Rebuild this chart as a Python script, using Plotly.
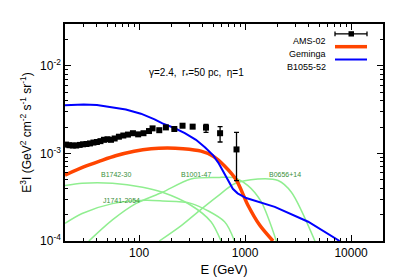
import plotly.graph_objects as go

# ---------------- data ----------------
ams_E = [20.5, 22.0, 23.7, 25.5, 27.5, 29.6, 31.9, 34.4, 37.1, 40.0, 43.2, 46.6, 50.3, 54.3,
         58.8, 64.5, 71.0, 78.5, 87.5, 98, 110, 124, 134, 155, 179, 215, 257, 320, 428, 581, 830]
ams_F = [1.26e-3, 1.24e-3, 1.23e-3, 1.23e-3, 1.25e-3, 1.27e-3, 1.28e-3, 1.30e-3, 1.33e-3, 1.35e-3,
         1.38e-3, 1.43e-3, 1.45e-3, 1.43e-3, 1.48e-3, 1.55e-3, 1.60e-3, 1.64e-3, 1.70e-3, 1.65e-3,
         1.70e-3, 1.80e-3, 1.93e-3, 1.84e-3, 1.98e-3, 1.90e-3, 2.07e-3, 2.02e-3, 1.97e-3, 1.70e-3, 1.11e-3]
ams_err_up = [0.02e-3] * 26 + [0.06e-3, 0.08e-3, 0.17e-3, 0.32e-3, 0.63e-3]
ams_err_dn = [0.02e-3] * 26 + [0.06e-3, 0.08e-3, 0.23e-3, 0.35e-3, 0.62e-3]

gem_E = [20, 30, 43, 60, 90, 130, 185, 260, 384, 500, 640, 824, 1064, 1371, 1834]
gem_F = [5.65e-4, 7.0e-4, 8.2e-4, 9.4e-4, 1.06e-3, 1.13e-3, 1.15e-3, 1.13e-3, 1.06e-3, 9.3e-4,
         7.2e-4, 5.0e-4, 2.56e-4, 1.52e-4, 1.0e-4]

b1055_E = [20, 25, 30, 40, 50, 75, 104, 140, 166, 215, 270, 344, 420, 500, 560, 616, 680, 730, 766,
           850, 1024, 1905, 3935, 7800]
b1055_F = [3.54e-3, 3.60e-3, 3.62e-3, 3.56e-3, 3.44e-3, 3.17e-3, 2.84e-3, 2.45e-3, 2.2e-3, 1.95e-3,
           1.70e-3, 1.43e-3, 1.17e-3, 9.5e-4, 7.8e-4, 6.3e-4, 5.0e-4, 4.3e-4, 3.94e-4,
           3.5e-4, 3.09e-4, 2.45e-4, 1.66e-4, 1.0e-4]

b1742_E = [20, 29, 56, 108, 166, 308, 477, 593]
b1742_F = [4.29e-4, 4.55e-4, 4.55e-4, 4.1e-4, 3.6e-4, 2.56e-4, 1.66e-4, 1.0e-4]

j1741_E = [20, 29, 56, 115, 166, 308, 640, 794]
j1741_F = [1.59e-4, 2.06e-4, 2.67e-4, 2.91e-4, 2.86e-4, 2.69e-4, 1.66e-4, 1.0e-4]

b1001_E = [33.6, 56, 93, 166, 308, 552, 766, 1064, 1422, 1972]
b1001_F = [1.0e-4, 1.74e-4, 2.67e-4, 3.6e-4, 5.1e-4, 5.3e-4, 5.3e-4, 4.29e-4, 2.79e-4, 1.0e-4]

b0656_E = [155, 250, 384, 560, 794, 1321, 2047, 2735, 4560]
b0656_F = [1.0e-4, 1.5e-4, 2.3e-4, 3.3e-4, 4.5e-4, 5.1e-4, 4.9e-4, 3.6e-4, 1.0e-4]

green_labels = ["B1742-30", "J1741-2054", "B1001-47", "B0656+14"]
legend_names = ["AMS-02", "Geminga", "B1055-52"]
x_ticks = [100, 1000, 10000]
y_ticks = [1e-4, 1e-3, 1e-2]
y_ticktext = ["10<sup>-4</sup>", "10<sup>-3</sup>", "10<sup>-2</sup>"]

# ---------------- figure ----------------
GREEN = "#90EE90"
ORANGE = "#FF4500"
BLUE = "#0000FF"
FONT = "Liberation Sans"

fig = go.Figure()
for E, F in [(b1742_E, b1742_F), (j1741_E, j1741_F), (b1001_E, b1001_F), (b0656_E, b0656_F)]:
    fig.add_trace(go.Scatter(x=E, y=F, mode="lines", line=dict(color=GREEN, width=1.5, shape="spline", smoothing=0.8),
                             showlegend=False, hoverinfo="skip"))
fig.add_trace(go.Scatter(x=gem_E, y=gem_F, mode="lines", line=dict(color=ORANGE, width=3.5, shape="spline", smoothing=0.8),
                         showlegend=False))
fig.add_trace(go.Scatter(x=b1055_E, y=b1055_F, mode="lines", line=dict(color=BLUE, width=2),
                         showlegend=False))
fig.add_trace(go.Scatter(x=ams_E, y=ams_F, mode="markers",
                         marker=dict(symbol="square", size=6, color="black"),
                         error_y=dict(type="data", array=ams_err_up, arrayminus=ams_err_dn,
                                      color="black", thickness=1.3, width=2.5),
                         showlegend=False))

# plot area helpers (paper coords)
L, R, T, B = 57, 375, 16, 236
def px(x):
    return (x - L) / (R - L)
def py(y):
    return (B - y) / (B - T)

annotations = [
    dict(x=px(139), y=py(58), xref="paper", yref="paper",
         text="γ=2.4,  r<sub>*</sub>=50 pc,  η=1", showarrow=False,
         font=dict(family=FONT, size=10, color="black")),
]
lab_pos = [(91, 174), (93, 201), (188, 174.3), (295, 174.3)]
for name, (lx, ly) in zip(green_labels, lab_pos):
    annotations.append(dict(x=px(lx), y=py(ly), xref="paper", yref="paper", text=name, showarrow=False,
                            font=dict(family=FONT, size=7, color="#3a8f3a")))

# manual legend (text right-aligned, symbol to the right)
leg_y = [26, 39, 52]
leg_colors = ["black", ORANGE, BLUE]
leg_widths = [1.3, 3.5, 2]
shapes = []
for name, yy, c, w in zip(legend_names, leg_y, leg_colors, leg_widths):
    annotations.append(dict(x=px(320), y=py(yy), xref="paper", yref="paper", text=name, showarrow=False,
                            xanchor="right", font=dict(family=FONT, size=9, color="black")))
    shapes.append(dict(type="line", xref="paper", yref="paper", x0=px(327), x1=px(359), y0=py(yy), y1=py(yy),
                       line=dict(color=c, width=w)))
# AMS legend marker and caps
shapes.append(dict(type="rect", xref="paper", yref="paper", x0=px(340.5), x1=px(346), y0=py(28.7), y1=py(23.3),
                   fillcolor="black", line=dict(width=0)))
for cx in (327, 359):
    shapes.append(dict(type="line", xref="paper", yref="paper", x0=px(cx), x1=px(cx), y0=py(23.5), y1=py(28.5),
                       line=dict(color="black", width=1.3)))

axis_common = dict(type="log", showline=True, linecolor="black", linewidth=1.5, mirror="allticks",
                   ticks="inside", ticklen=6, tickwidth=1, tickcolor="black", showgrid=False, zeroline=False,
                   tickfont=dict(family=FONT, size=12, color="black"))

minor_x = [v * m for v in [10, 100, 1000, 10000] for m in range(2, 10) if 20 <= v * m <= 20000]
minor_y = [v * m for v in [1e-4, 1e-3, 1e-2] for m in range(2, 10) if v * m <= 3e-2]

fig.update_xaxes(**axis_common, range=[1.30103, 4.30103], tickvals=x_ticks, ticktext=["100", "1000", "10000"],
                 minor=dict(tickmode="array", tickvals=minor_x, ticks="inside", ticklen=3, tickcolor="black", showgrid=False),
                 title=dict(text="E (GeV)", font=dict(family=FONT, size=13, color="black"), standoff=6))
fig.update_yaxes(**axis_common, range=[-4, -1.5229], tickvals=y_ticks, ticktext=y_ticktext,
                 minor=dict(tickmode="array", tickvals=minor_y, ticks="inside", ticklen=3, tickcolor="black", showgrid=False),
                 title=dict(text="E<sup>3</sup>I (GeV<sup>2</sup> cm<sup>-2</sup> s<sup>-1</sup> sr<sup>-1</sup>)",
                            font=dict(family=FONT, size=12, color="black"), standoff=6))

fig.update_layout(width=399, height=279, margin=dict(l=L, r=399 - R, t=T, b=279 - B),
                  plot_bgcolor="white", paper_bgcolor="white", showlegend=False,
                  annotations=annotations, shapes=shapes, font=dict(family=FONT))

fig.write_html("out.html")
